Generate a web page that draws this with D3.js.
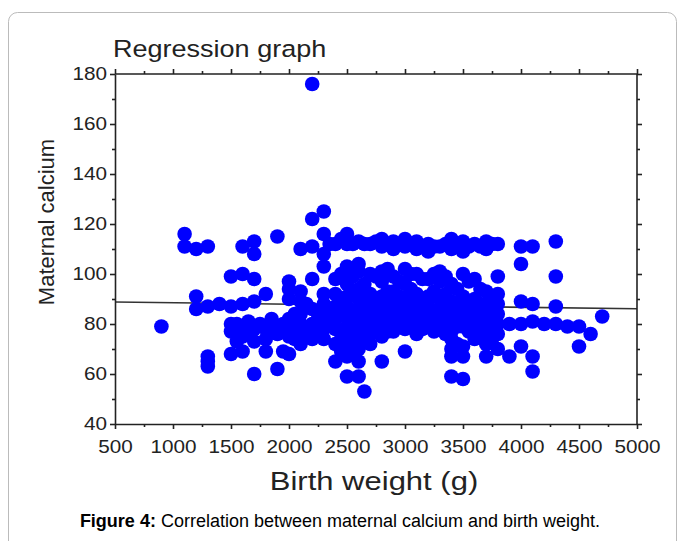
<!DOCTYPE html>
<meta charset="utf-8">
<style>
body { margin: 0; background: #fff; }
text { font-family: "Liberation Sans", Arial, sans-serif; fill: #222; }
.axis path, .axis line { stroke: #222; stroke-width: 1.6; }
.axis text { font-size: 18px; }
</style>
<body>
<script src="https://cdnjs.cloudflare.com/ajax/libs/d3/7.8.5/d3.min.js"></script>
<script>

// birth weight (g) and maternal calcium, one pair per point (one line per weight)
var birthWeight = [
  900,
  1100, 1100,
  1200, 1200, 1200,
  1300, 1300, 1300, 1300, 1300,
  1400,
  1500, 1500, 1500, 1500, 1500,
  1550, 1550,
  1600, 1600, 1600, 1600, 1600, 1600,
  1650, 1650,
  1700, 1700, 1700, 1700, 1700, 1700, 1700,
  1750,
  1800, 1800, 1800, 1800,
  1850,
  1900, 1900, 1900, 1900,
  1950, 1950,
  2000, 2000, 2000, 2000, 2000, 2000, 2000,
  2050, 2050,
  2100, 2100, 2100, 2100, 2100, 2100, 2100,
  2150, 2150,
  2200, 2200, 2200, 2200, 2200, 2200, 2200,
  2250, 2250,
  2300, 2300, 2300, 2300, 2300, 2300, 2300, 2300, 2300,
  2350, 2350, 2350,
  2400, 2400, 2400, 2400, 2400, 2400, 2400, 2400,
  2450, 2450, 2450, 2450, 2450, 2450,
  2500, 2500, 2500, 2500, 2500, 2500, 2500, 2500, 2500, 2500, 2500, 2500,
  2550, 2550, 2550, 2550, 2550, 2550, 2550, 2550,
  2600, 2600, 2600, 2600, 2600, 2600, 2600, 2600, 2600, 2600, 2600, 2600,
  2650, 2650, 2650, 2650, 2650, 2650, 2650,
  2700, 2700, 2700, 2700, 2700, 2700, 2700, 2700,
  2750, 2750, 2750, 2750, 2750, 2750,
  2800, 2800, 2800, 2800, 2800, 2800, 2800, 2800, 2800, 2800,
  2850, 2850, 2850, 2850, 2850, 2850,
  2900, 2900, 2900, 2900, 2900, 2900, 2900, 2900,
  2950, 2950, 2950, 2950, 2950, 2950,
  3000, 3000, 3000, 3000, 3000, 3000, 3000, 3000, 3000,
  3050, 3050, 3050, 3050, 3050, 3050,
  3100, 3100, 3100, 3100, 3100, 3100, 3100, 3100,
  3150, 3150, 3150, 3150, 3150, 3150,
  3200, 3200, 3200, 3200, 3200, 3200, 3200,
  3250, 3250, 3250, 3250, 3250, 3250,
  3300, 3300, 3300, 3300, 3300, 3300, 3300,
  3350, 3350, 3350, 3350, 3350, 3350, 3350,
  3400, 3400, 3400, 3400, 3400, 3400, 3400, 3400, 3400, 3400, 3400,
  3450, 3450, 3450, 3450, 3450, 3450,
  3500, 3500, 3500, 3500, 3500, 3500, 3500, 3500, 3500, 3500,
  3550, 3550, 3550, 3550, 3550, 3550,
  3600, 3600, 3600, 3600, 3600, 3600, 3600,
  3650, 3650, 3650, 3650, 3650, 3650,
  3700, 3700, 3700, 3700, 3700, 3700, 3700, 3700, 3700,
  3750, 3750, 3750, 3750, 3750, 3750,
  3800, 3800, 3800, 3800, 3800, 3800, 3800, 3800,
  3900, 3900,
  4000, 4000, 4000, 4000, 4000,
  4100, 4100, 4100, 4100, 4100,
  4200,
  4300, 4300, 4300, 4300,
  4400,
  4500, 4500,
  4600,
  4700
];

var calcium = [
  79,
  116, 111,
  110, 91, 86,
  111, 87, 67, 65, 63,
  88,
  99, 87, 80, 77, 68,
  80, 73,
  111, 100, 88, 78, 75, 69,
  76, 81,
  113, 108, 98, 89, 78, 73, 60,
  80,
  92, 78, 74, 69,
  82,
  115, 78, 76, 62,
  80, 69,
  97, 94, 90, 82, 78, 75, 68,
  74, 84,
  110, 93, 89, 84, 80, 77, 72,
  76, 88,
  176, 122, 111, 98, 86, 80, 74,
  84, 78,
  125, 116, 108, 103, 92, 88, 82, 78, 74,
  80, 86, 112,
  112, 98, 92, 87, 82, 78, 72, 65,
  114, 100, 90, 84, 76, 69,
  116, 112, 103, 96, 91, 87, 83, 79, 75, 71, 67, 59,
  112, 99, 93, 85, 81, 77, 73, 69,
  113, 104, 101, 94, 90, 86, 82, 78, 74, 70, 65, 59,
  112, 96, 88, 84, 80, 76, 53,
  112, 100, 92, 88, 84, 80, 76, 72,
  113, 99, 90, 86, 82, 78,
  114, 111, 101, 97, 91, 87, 83, 79, 75, 65,
  112, 102, 93, 85, 81, 77,
  113, 110, 99, 93, 89, 85, 81, 77,
  112, 97, 91, 87, 83, 79,
  114, 111, 102, 96, 90, 86, 82, 78, 69,
  112, 100, 94, 88, 84, 80,
  113, 110, 100, 92, 88, 84, 80, 76,
  111, 98, 90, 86, 82, 78,
  112, 109, 98, 91, 87, 83, 79,
  111, 100, 93, 85, 81, 77,
  111, 101, 97, 90, 86, 82, 78,
  112, 99, 92, 88, 84, 80, 76,
  114, 110, 96, 89, 85, 81, 77, 74, 70, 67, 59,
  112, 94, 87, 83, 79, 72,
  113, 109, 100, 91, 87, 83, 79, 71, 67, 58,
  111, 97, 89, 85, 81, 77,
  112, 98, 90, 86, 82, 78, 74,
  111, 94, 88, 84, 80, 76,
  113, 110, 93, 88, 84, 80, 76, 72, 67,
  112, 90, 86, 82, 78, 74,
  112, 99, 92, 88, 84, 80, 76, 70,
  80, 67,
  111, 104, 89, 80, 71,
  111, 88, 81, 67, 61,
  80,
  113, 99, 87, 80,
  79,
  79, 71,
  76,
  83
];

// fitted line: calcium = intercept + slope * weight
var intercept = 89.1,
    slope = -0.0006;

var xMajor = d3.range(500, 5001, 500),
    xMinor = d3.range(750, 5000, 500),
    yMajor = d3.range(40, 181, 20),
    yMinor = d3.range(50, 180, 20);

var width = 683, height = 541,
    stretch = 1.15;   // the original text is a little wide

var svg = d3.select("body").append("svg")
    .attr("width", width)
    .attr("height", height);

// panel border
svg.append("rect")
    .attr("x", 8.5).attr("y", 12.5)
    .attr("width", 668).attr("height", 580)
    .attr("rx", 9)
    .attr("fill", "none")
    .attr("stroke", "#bbb");

var x = d3.scaleLinear().domain([500, 5000]).range([115, 637]);
var y = d3.scaleLinear().domain([40, 180]).range([424, 74]);

var data = birthWeight.map(function(d, i) { return {w: d, c: calcium[i]}; });

// regression line (behind the points)
svg.append("line")
    .attr("x1", x(500)).attr("y1", y(intercept + slope * 500))
    .attr("x2", x(5000)).attr("y2", y(intercept + slope * 5000))
    .attr("stroke", "#333")
    .attr("stroke-width", 1.6);

svg.append("g")
    .selectAll("circle")
    .data(data)
  .enter().append("circle")
    .attr("cx", function(d) { return x(d.w); })
    .attr("cy", function(d) { return y(d.c); })
    .attr("r", 7.3)
    .attr("fill", "#0000ff");

function frame(axis, tx, ty, values, size, labels, pad) {
  var g = svg.append("g")
      .attr("class", "axis")
      .attr("transform", "translate(" + tx + "," + ty + ")")
      .call(axis.tickValues(values).tickSize(size).tickSizeOuter(0)
        .tickPadding(pad || 3)
        .tickFormat(labels ? d3.format("d") : ""));
  if (!labels) g.select(".domain").remove();
  else g.selectAll(".tick text").attr("transform", "scale(" + stretch + ",1)");
  return g;
}

// bottom & left with labels, top & right plain
frame(d3.axisBottom(x), 0, 424, xMajor, 5, true, 11);
frame(d3.axisBottom(x), 0, 424, xMinor, 3, false);
frame(d3.axisLeft(y), 115, 0, yMajor, 5, true, 2);
frame(d3.axisLeft(y), 115, 0, yMinor, 3, false);
frame(d3.axisTop(x), 0, 74, xMajor, 5, false);
frame(d3.axisTop(x), 0, 74, xMinor, 3, false);
frame(d3.axisRight(y), 637, 0, yMajor, 5, false);
frame(d3.axisRight(y), 637, 0, yMinor, 3, false);

svg.append("g").attr("class", "axis").append("path")
    .attr("d", "M115,74H637V424")
    .attr("fill", "none");

svg.append("text")
    .attr("transform", "translate(113,57) scale(" + stretch + ",1)")
    .style("font-size", "23.5px")
    .text("Regression graph");

svg.append("text")
    .attr("transform", "translate(54,222) rotate(-90)")
    .attr("text-anchor", "middle")
    .style("font-size", "22px")
    .text("Maternal calcium");

svg.append("text")
    .attr("transform", "translate(374,490) scale(1.24,1)")
    .attr("text-anchor", "middle")
    .style("font-size", "25px")
    .text("Birth weight (g)");

var cap = svg.append("text")
    .attr("x", 340).attr("y", 527)
    .attr("text-anchor", "middle")
    .style("font-size", "18px")
    .style("fill", "#000");
cap.append("tspan").style("font-weight", "bold").text("Figure 4:");
cap.append("tspan").text(" Correlation between maternal calcium and birth weight.");

</script>
